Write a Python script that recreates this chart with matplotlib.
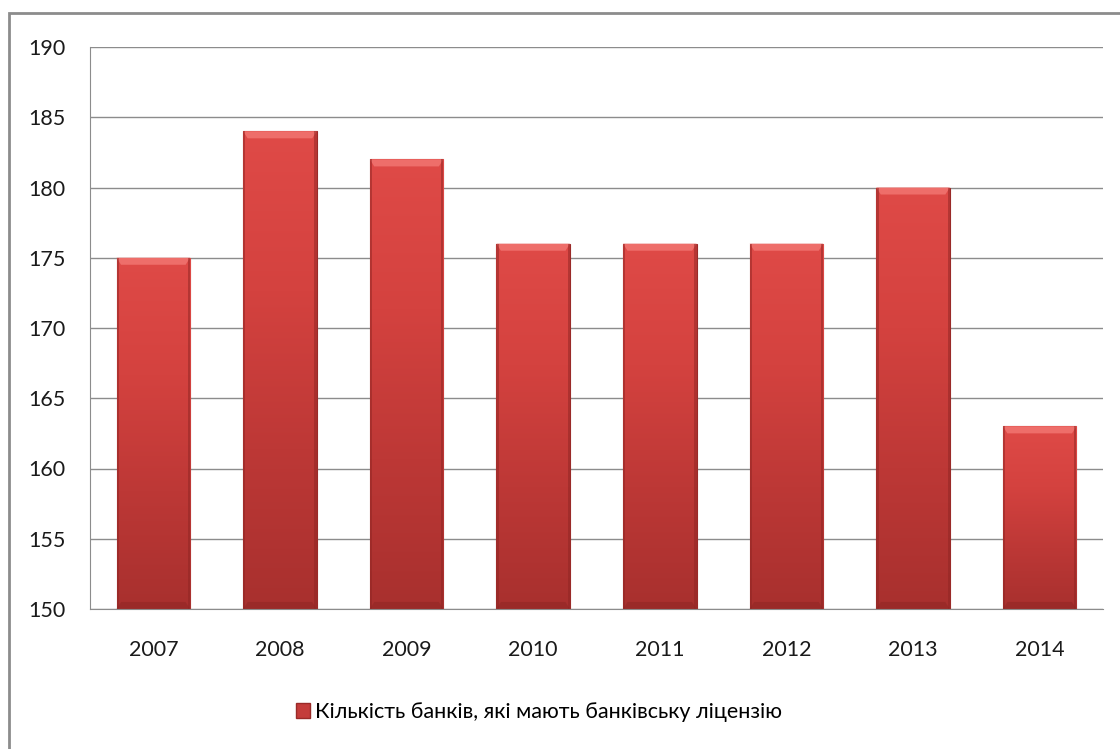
import matplotlib
matplotlib.use("Agg")
import matplotlib.pyplot as plt
import numpy as np
from matplotlib.patches import Rectangle, Polygon
from matplotlib.colors import LinearSegmentedColormap

plt.rcParams['font.family'] = ['Lato', 'Noto Sans', 'DejaVu Sans']

years = ['2007', '2008', '2009', '2010', '2011', '2012', '2013', '2014']
banks = [175, 184, 182, 176, 176, 176, 180, 163]
legend_label = 'Кількість банків, які мають банківську ліцензію'
yticks = [150, 155, 160, 165, 170, 175, 180, 185, 190]

fig = plt.figure(figsize=(11.2, 7.49), dpi=100)
ax = fig.add_axes([90/1120, 1-609/749, (1103-90)/1120, (609-47)/749])

# outer chart border
fig.patches.append(Rectangle((9/1120, -0.05), 1.2, 1-13/749+0.05, transform=fig.transFigure,
                             fill=False, edgecolor='#8c8c8c', linewidth=2.0, zorder=0))

x = np.arange(len(years))
bars = ax.bar(x, banks, width=0.58, bottom=0, color='#c43c3a', edgecolor='#9a2a28',
              linewidth=0.8, zorder=2, label=legend_label)

cmap = LinearSegmentedColormap.from_list('redgrad', ['#df4a47', '#d4423f', '#bd3836', '#a8302e'])
grad = np.linspace(0, 1, 256).reshape(-1, 1)
for b in bars:
    x0, w, h = b.get_x(), b.get_width(), b.get_height()
    im = ax.imshow(grad, cmap=cmap, aspect='auto', extent=(x0, x0 + w, 150, h),
                   origin='upper', zorder=2.1)
    im.set_clip_path(b)
    # lighter top bevel (trapezoid)
    bev = 0.06 * w
    dy = 0.5
    ax.add_patch(Polygon([(x0, h), (x0 + w, h), (x0 + w - bev, h - dy), (x0 + bev, h - dy)],
                         closed=True, facecolor='#ee6e6a', edgecolor='none', zorder=2.2))
    # darker bottom band
    ax.add_patch(Polygon([(x0, 150), (x0 + w, 150), (x0 + w - bev, 150.5), (x0 + bev, 150.5)],
                         closed=True, facecolor='#8e2523', edgecolor='none', alpha=0.5, zorder=2.2))
    # shadow sides
    ax.add_patch(Rectangle((x0, 150), w * 0.03, h - 150, facecolor='#8e2523', edgecolor='none', alpha=0.5, zorder=2.2))
    ax.add_patch(Rectangle((x0 + w * 0.97, 150), w * 0.03, h - 150, facecolor='#8e2523', edgecolor='none', alpha=0.5, zorder=2.2))

ax.set_ylim(150, 190)
ax.set_xlim(-0.5, len(years) - 0.5)
ax.set_yticks(yticks)
ax.set_xticks(x)
ax.set_xticklabels(years)
ax.yaxis.grid(True, color='#8c8c8c', linewidth=1.0, zorder=0)
ax.set_axisbelow(True)
for s in ['top', 'right']:
    ax.spines[s].set_visible(False)
ax.spines['left'].set_color('#8c8c8c')
ax.spines['bottom'].set_color('#8c8c8c')
ax.tick_params(axis='both', length=0, labelsize=15.5, colors='#1a1a1a')
ax.tick_params(axis='y', pad=17.5)
ax.tick_params(axis='x', pad=22.5)

leg = fig.legend(handles=[Rectangle((0, 0), 1, 1, facecolor='#c43c3a', edgecolor='#9a2a28')],
                 labels=[legend_label], loc='center', bbox_to_anchor=(539/1120, 1-712/749),
                 frameon=False, fontsize=15.5, handlelength=0.65, handleheight=0.65, handletextpad=0.2)

fig.savefig('out.png', dpi=100)
